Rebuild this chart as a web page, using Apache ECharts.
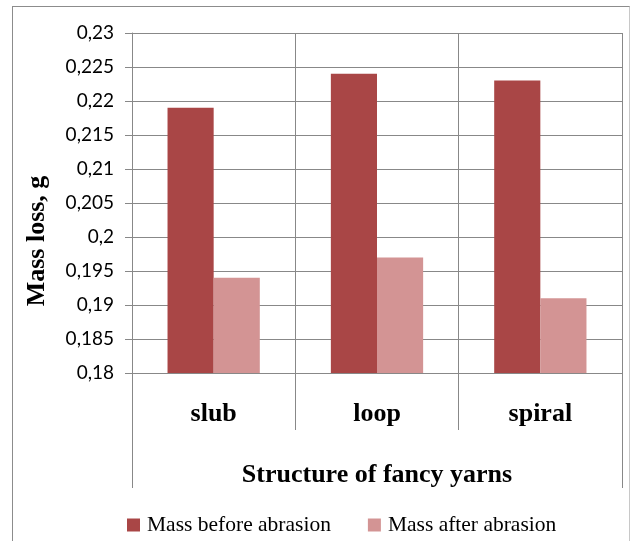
<!DOCTYPE html>
<html><head><meta charset="utf-8">
<script src="https://cdn.jsdelivr.net/npm/echarts@6/dist/echarts.min.js"></script>
<style>
html,body{margin:0;padding:0;background:#fff;}
#frame{position:absolute;left:12px;top:6px;width:618px;height:540px;border:1px solid #8c8c8c;border-right-color:#c8c8c8;box-sizing:border-box;}
#c{position:absolute;left:0;top:0;width:631px;height:541px;}
</style></head>
<body>
<div id="frame"></div>
<div id="c"></div>
<script>
const categories = ['slub', 'loop', 'spiral'];
const massBefore = [0.219, 0.224, 0.223];
const massAfter = [0.194, 0.197, 0.191];
const seriesNames = ['Mass before abrasion', 'Mass after abrasion'];
const xTitle = 'Structure of fancy yarns';
const yTitle = 'Mass loss, g';

const chart = echarts.init(document.getElementById('c'), null, {renderer: 'canvas'});
const serif = 'Liberation Serif';
chart.setOption({
  animation: false,
  backgroundColor: 'transparent',
  grid: {left: 132, top: 33, width: 490, height: 340, containLabel: false},
  legend: {
    left: 122, top: 509, itemWidth: 13, itemHeight: 13, itemGap: 37,
    icon: 'rect',
    textStyle: {fontFamily: serif, fontSize: 21.5, color: '#000', padding: [0, 0, 0, 2]},
    data: seriesNames
  },
  xAxis: [{
    type: 'category', data: categories, position: 'bottom',
    axisLine: {show: true, lineStyle: {color: '#888', width: 1}},
    axisTick: {show: true, length: 57, lineStyle: {color: '#888'}},
    splitLine: {show: true, lineStyle: {color: '#888', width: 1}},
    axisLabel: {margin: 28, fontFamily: serif, fontWeight: 'bold', fontSize: 26, color: '#000'}
  }, {
    type: 'category', data: [xTitle], position: 'bottom',
    axisLine: {show: false},
    axisTick: {show: true, length: 115, lineStyle: {color: '#888'}},
    axisLabel: {margin: 89, fontFamily: serif, fontWeight: 'bold', fontSize: 26, color: '#000'}
  }],
  yAxis: {
    type: 'value', min: 0.18, max: 0.23, interval: 0.005,
    name: yTitle, nameLocation: 'middle', nameRotate: 90, nameGap: 82,
    nameTextStyle: {fontFamily: serif, fontWeight: 'bold', fontSize: 26, color: '#000', padding: [0, 76, 0, 0]},
    axisLine: {show: true, lineStyle: {color: '#888'}},
    axisTick: {show: true, length: 7, lineStyle: {color: '#888'}},
    splitLine: {show: true, lineStyle: {color: '#888', width: 1}},
    axisLabel: {
      margin: 18, fontFamily: 'Lato', fontSize: 19, color: '#000',
      formatter: v => String(parseFloat(v.toFixed(3))).replace('.', ',')
    }
  },
  series: [{
    name: seriesNames[0], type: 'bar', data: massBefore, xAxisIndex: 0,
    barGap: '0%', barCategoryGap: '43.5%',
    itemStyle: {color: '#A94646'}
  }, {
    name: seriesNames[1], type: 'bar', data: massAfter, xAxisIndex: 0,
    barGap: '0%', barCategoryGap: '43.5%',
    itemStyle: {color: '#D39494'}
  }]
});
</script>
</body></html>
